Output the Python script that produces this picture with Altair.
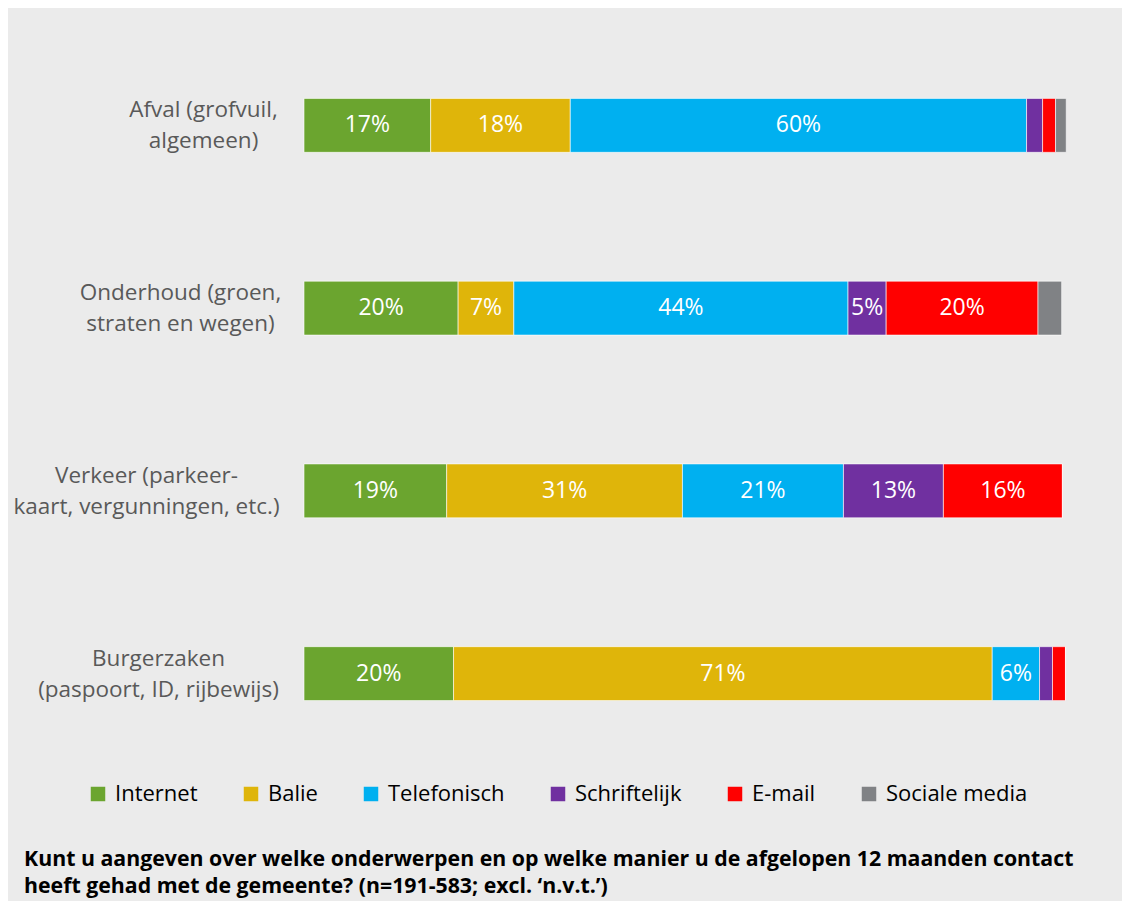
import altair as alt
import pandas as pd

categories = [
    "Afval (grofvuil,|algemeen)",
    "Onderhoud (groen,|straten en wegen)",
    "Verkeer (parkeer-|kaart, vergunningen, etc.)",
    "Burgerzaken|(paspoort, ID, rijbewijs)",
]
channels = ["Internet", "Balie", "Telefonisch", "Schriftelijk", "E-mail", "Sociale media"]
colors = ["#6ba52f", "#dfb50a", "#00b0f0", "#7030a0", "#ff0000", "#808285"]

internet = [16.6, 20.2, 18.7, 19.6]
balie = [18.3, 7.3, 30.9, 70.6]
telefonisch = [59.8, 43.8, 21.1, 6.2]
schriftelijk = [2.1, 5.0, 13.1, 1.7]
email = [1.7, 19.9, 15.6, 1.7]
sociale_media = [1.4, 3.1, 0.0, 0.0]

caption = [
    "Kunt u aangeven over welke onderwerpen en op welke manier u de afgelopen 12 maanden contact",
    "heeft gehad met de gemeente? (n=191-583; excl. \u2018n.v.t.\u2019)",
]

series = [internet, balie, telefonisch, schriftelijk, email, sociale_media]
rows = []
for ci, ch in enumerate(channels):
    for k, cat in enumerate(categories):
        rows.append({"cat": cat, "channel": ch, "order": ci, "value": series[ci][k]})
df = pd.DataFrame(rows)

FONT = "Open Sans"

# per-label padding so that each centred label block ends right of the bars
pads = [101, 124, 158, 146]
pad_cond = [
    {"test": f"datum.value == '{c}'", "value": p} for c, p in zip(categories[:-1], pads[:-1])
]

y_axis = alt.Axis(
    domain=False,
    ticks=False,
    grid=False,
    labelExpr="split(datum.value, '|')",
    labelAlign="center",
    labelBaseline="middle",
    labelOffset=-15,
    labelPadding={"condition": pad_cond, "value": pads[-1]},
    labelFont=FONT,
    labelFontSize=22.5,
    labelColor="#595959",
    labelLineHeight=31,
    labelLimit=400,
    minExtent=292,
    maxExtent=292,
)

base = alt.Chart(df).transform_stack(
    stack="value",
    groupby=["cat"],
    sort=[alt.SortField("order", order="ascending")],
    as_=["x0", "x1"],
).transform_calculate(
    mid="(datum.x0 + datum.x1) / 2",
    lab="round(datum.value) + '%'",
)

yenc = alt.Y(
    "cat:N",
    sort=categories,
    title=None,
    scale=alt.Scale(paddingInner=0.705, paddingOuter=0.3525),
    axis=y_axis,
)

bars = base.mark_bar(stroke="white", strokeWidth=1, strokeOpacity=0.6).encode(
    x=alt.X("x0:Q", scale=alt.Scale(domain=[0, 100], nice=False, zero=True), axis=None),
    x2="x1:Q",
    y=yenc,
    color=alt.Color(
        "channel:N",
        sort=channels,
        scale=alt.Scale(domain=channels, range=colors),
        legend=alt.Legend(
            title=None,
            orient="none",
            direction="horizontal",
            columns=6,
            legendX=-217,
            legendY=749,
            symbolType="square",
            symbolSize=210,
            symbolStrokeWidth=0,
            labelFont=FONT,
            labelFontSize=22,
            labelColor="#000000",
            labelOffset=6,
            columnPadding=42,
            labelLimit=300,
        ),
    ),
    order=alt.Order("order:Q"),
)

text = base.transform_filter("datum.value >= 4.5").mark_text(
    color="white", font=FONT, fontSize=23, baseline="middle", align="center"
).encode(
    x=alt.X("mid:Q", scale=alt.Scale(domain=[0, 100], nice=False), axis=None),
    y=alt.Y("cat:N", sort=categories, axis=y_axis),
    text="lab:N",
)

chart = alt.layer(bars, text).properties(
    width=763,
    height=731,
    background="#ebebeb",
    autosize=alt.AutoSizeParams(type="none"),
    padding={"left": 296, "top": 26, "right": 55, "bottom": 136},
    title=alt.TitleParams(
        text=caption,
        orient="bottom",
        anchor="start",
        frame="group",
        dx=-280,
        offset=44,
        font=FONT,
        fontSize=21.3,
        fontWeight="bold",
        color="#000000",
        lineHeight=27,
    ),
).configure_view(stroke=None)

chart.save("out.html", embed_options={"renderer": "svg", "actions": False})
